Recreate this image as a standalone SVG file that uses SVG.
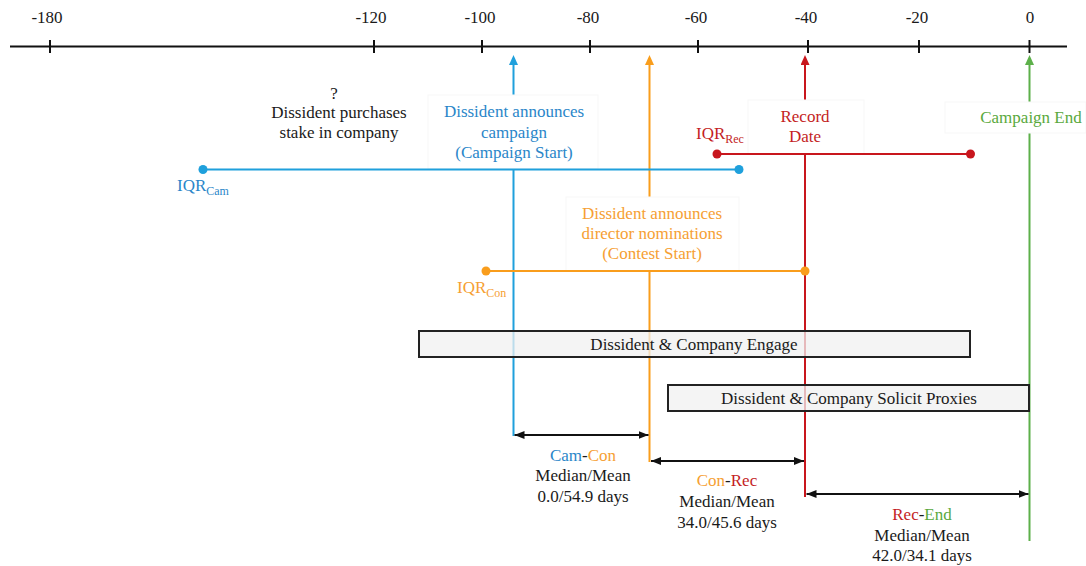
<svg xmlns="http://www.w3.org/2000/svg" width="1086" height="566" viewBox="0 0 1086 566" font-family="'Liberation Serif', 'DejaVu Serif', serif">
<style>
text{font-family:"Liberation Serif","DejaVu Serif",serif;font-size:17px;fill:#1a1a1a}
.c{text-anchor:middle}
.blue{fill:#2a86c9}.orange{fill:#f6a033}.red{fill:#c41e24}.green{fill:#5aa93d}
.sub{font-size:12px}
.tick{stroke:#111;stroke-width:2}
.lb{fill:#fff;stroke:#f7f7f7;stroke-width:1}
.phase{fill:#f0f0f0;fill-opacity:0.75;stroke:#222;stroke-width:2}
.dur{stroke:#111;stroke-width:2;marker-start:url(#ah);marker-end:url(#ah)}
</style>
<defs>
<marker id="ah" viewBox="0 0 10 8" refX="10" refY="4" markerWidth="10" markerHeight="8" markerUnits="userSpaceOnUse" orient="auto-start-reverse"><path d="M0,0L10,4L0,8z" fill="#111"/></marker>
<marker id="ab" viewBox="0 0 10 9" refX="7" refY="4.5" markerWidth="10" markerHeight="9" markerUnits="userSpaceOnUse" orient="auto"><path d="M0,0L10,4.5L0,9z" fill="#1fa0dc"/></marker>
<marker id="ao" viewBox="0 0 10 9" refX="7" refY="4.5" markerWidth="10" markerHeight="9" markerUnits="userSpaceOnUse" orient="auto"><path d="M0,0L10,4.5L0,9z" fill="#f99d1c"/></marker>
<marker id="ar" viewBox="0 0 10 9" refX="7" refY="4.5" markerWidth="10" markerHeight="9" markerUnits="userSpaceOnUse" orient="auto"><path d="M0,0L10,4.5L0,9z" fill="#c8161d"/></marker>
<marker id="ag" viewBox="0 0 10 9" refX="7" refY="4.5" markerWidth="10" markerHeight="9" markerUnits="userSpaceOnUse" orient="auto"><path d="M0,0L10,4.5L0,9z" fill="#5db04a"/></marker>
</defs>
<rect width="1086" height="566" fill="#fff"/>

<g id="axis">
<line x1="10" y1="46.5" x2="1067" y2="46.5" stroke="#111" stroke-width="2"/>
<line class="tick" x1="50" y1="40" x2="50" y2="53"/>
<line class="tick" x1="374" y1="40" x2="374" y2="53"/>
<line class="tick" x1="482" y1="40" x2="482" y2="53"/>
<line class="tick" x1="590" y1="40" x2="590" y2="53"/>
<line class="tick" x1="698" y1="40" x2="698" y2="53"/>
<line class="tick" x1="808" y1="40" x2="808" y2="53"/>
<line class="tick" x1="919" y1="40" x2="919" y2="53"/>
<line class="tick" x1="1029.5" y1="40" x2="1029.5" y2="53"/>
<text class="c" x="47" y="23">-180</text>
<text class="c" x="371" y="23">-120</text>
<text class="c" x="480" y="23">-100</text>
<text class="c" x="588" y="23">-80</text>
<text class="c" x="696" y="23">-60</text>
<text class="c" x="806" y="23">-40</text>
<text class="c" x="917" y="23">-20</text>
<text class="c" x="1030" y="23">0</text>
</g>

<g id="connectors">
<line x1="513.5" y1="436" x2="513.5" y2="58" stroke="#1fa0dc" stroke-width="2" marker-end="url(#ab)"/>
<line x1="649.5" y1="462" x2="649.5" y2="58" stroke="#f99d1c" stroke-width="2" marker-end="url(#ao)"/>
<line x1="805" y1="497" x2="805" y2="58" stroke="#c8161d" stroke-width="2" marker-end="url(#ar)"/>
<line x1="1029.5" y1="541" x2="1029.5" y2="58" stroke="#5db04a" stroke-width="2" marker-end="url(#ag)"/>
<line class="dur" x1="514.5" y1="435" x2="648.5" y2="435"/>
<line class="dur" x1="651" y1="461" x2="804" y2="461"/>
<line class="dur" x1="806.5" y1="494" x2="1028.5" y2="494"/>
</g>

<g id="node-stake">
<text class="c" x="334" y="99">?</text>
<text class="c" x="339" y="118">Dissident purchases</text>
<text class="c" x="339" y="138">stake in company</text>
</g>

<g id="node-campaign-start">
<rect class="lb" x="428" y="95" width="170" height="74"/>
<text class="c blue" x="514" y="117">Dissident announces</text>
<text class="c blue" x="514" y="138">campaign</text>
<text class="c blue" x="514" y="158">(Campaign Start)</text>
</g>

<g id="node-record-date">
<rect class="lb" x="748" y="100" width="116" height="54"/>
<text class="c red" x="805" y="122">Record</text>
<text class="c red" x="805" y="142">Date</text>
</g>

<g id="node-campaign-end">
<rect class="lb" x="945" y="102" width="141" height="31"/>
<text class="c green" x="1031" y="123">Campaign End</text>
</g>

<g id="node-contest-start">
<rect class="lb" x="566" y="197" width="173" height="74"/>
<text class="c orange" x="652" y="219">Dissident announces</text>
<text class="c orange" x="652" y="239">director nominations</text>
<text class="c orange" x="652" y="259">(Contest Start)</text>
</g>

<g id="iqr-cam">
<line x1="203" y1="169.5" x2="739" y2="169.5" stroke="#1fa0dc" stroke-width="2"/>
<circle cx="203" cy="169.5" r="4.5" fill="#1fa0dc"/>
<circle cx="739" cy="169.5" r="4.5" fill="#1fa0dc"/>
<text class="blue" x="177" y="191">IQR<tspan class="sub" dy="4">Cam</tspan></text>
</g>

<g id="iqr-rec">
<line x1="717" y1="154" x2="970.5" y2="154" stroke="#c8161d" stroke-width="2"/>
<circle cx="717" cy="154" r="4.5" fill="#c8161d"/>
<circle cx="970.5" cy="154" r="4.5" fill="#c8161d"/>
<text class="red" x="696" y="139">IQR<tspan class="sub" dy="4">Rec</tspan></text>
</g>

<g id="iqr-con">
<line x1="486" y1="271" x2="805" y2="271" stroke="#f99d1c" stroke-width="2"/>
<circle cx="486" cy="271" r="4.5" fill="#f99d1c"/>
<circle cx="805" cy="271" r="4.5" fill="#f99d1c"/>
<text class="orange" x="457" y="293">IQR<tspan class="sub" dy="4">Con</tspan></text>
</g>

<g id="phase-engage">
<rect class="phase" x="419" y="331" width="551" height="26"/>
<text class="c" x="694" y="350">Dissident &amp; Company Engage</text>
</g>

<g id="phase-solicit">
<rect class="phase" x="668" y="385" width="361" height="26"/>
<text class="c" x="849" y="404">Dissident &amp; Company Solicit Proxies</text>
</g>

<g id="dur-cam-con">
<text class="c" x="583" y="461"><tspan class="blue">Cam</tspan>-<tspan class="orange">Con</tspan></text>
<text class="c" x="583" y="481">Median/Mean</text>
<text class="c" x="583" y="502">0.0/54.9 days</text>
</g>

<g id="dur-con-rec">
<text class="c" x="727" y="486"><tspan class="orange">Con</tspan>-<tspan class="red">Rec</tspan></text>
<text class="c" x="727" y="507">Median/Mean</text>
<text class="c" x="727" y="528">34.0/45.6 days</text>
</g>

<g id="dur-rec-end">
<text class="c" x="922" y="520"><tspan class="red">Rec</tspan>-<tspan class="green">End</tspan></text>
<text class="c" x="922" y="541">Median/Mean</text>
<text class="c" x="922" y="561">42.0/34.1 days</text>
</g>
</svg>
